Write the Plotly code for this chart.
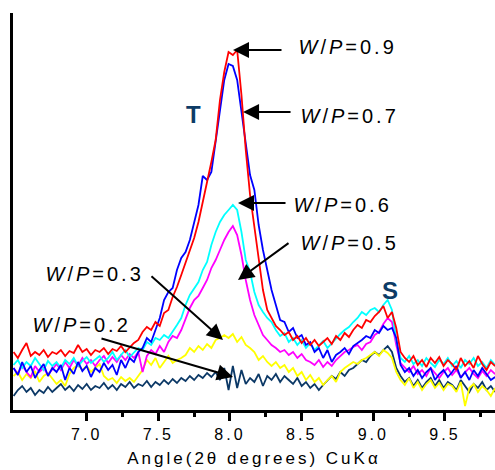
import numpy as np
import plotly.graph_objects as go

# 2-theta sampling grid (degrees), 0.03 deg step
two_theta = np.round(6.49 + 0.03 * np.arange(113), 2)

# Diffracted intensity (arb. units) for each W/P ratio
wp_09 = [58, 52, 60, 67, 54, 58, 55, 60, 53, 58,
         56, 60, 54, 59, 57, 65, 58, 61, 55, 60,
         58, 62, 56, 61, 59, 64, 58, 63, 67, 70,
         78, 83, 80, 88, 84, 97, 100, 113, 123, 135,
         148, 160, 172, 188, 207, 228, 248, 270, 310, 338,
         358, 355, 360, 315, 260, 215, 182, 148, 120, 100,
         92, 84, 80, 75, 78, 70, 74, 67, 72, 65,
         70, 64, 68, 72, 66, 74, 70, 77, 73, 80,
         85, 82, 90, 88, 94, 98, 104, 92, 98, 82,
         58, 52, 48, 54, 45, 50, 43, 52, 47, 53,
         44, 50, 46, 40, 52, 44, 49, 42, 54, 46, 40, 48, 44]

wp_07 = [42, 35, 48, 38, 44, 32, 40, 46, 34, 42,
         38, 45, 30, 42, 36, 48, 39, 44, 33, 42,
         38, 47, 40, 45, 35, 50, 42, 52, 48, 58,
         62, 72, 68, 80, 92, 110, 118, 122, 140, 152,
         158, 170, 188, 205, 234, 230, 238, 270, 300, 330,
         346, 344, 330, 298, 270, 235, 220, 185, 160, 140,
         120, 105, 90, 88, 78, 82, 72, 75, 65, 68,
         58, 62, 52, 60, 48, 55, 58, 62, 56, 64,
         67, 70, 74, 72, 80, 77, 84, 80, 82, 72,
         45, 38, 42, 34, 40, 32, 38, 42, 30, 36,
         40, 33, 38, 44, 32, 38, 30, 40, 34, 42, 36, 30, 33]

wp_06 = [45, 50, 42, 48, 44, 52, 46, 40, 49, 44,
         48, 42, 50, 46, 52, 44, 49, 53, 47, 51,
         54, 48, 52, 58, 50, 55, 60, 53, 58, 62,
         60, 68, 65, 72, 70, 75, 72, 78, 85, 92,
         105, 115, 122, 128, 140, 148, 165, 178, 188, 195,
         200, 205, 200, 178, 150, 138, 118, 105, 98, 92,
         88, 80, 74, 77, 68, 72, 65, 70, 62, 67,
         60, 65, 69, 62, 67, 72, 76, 80, 83, 88,
         92, 98, 95, 100, 102, 98, 105, 110, 100, 70,
         52, 48, 54, 46, 50, 44, 52, 47, 43, 50,
         46, 52, 44, 49, 42, 50, 46, 52, 44, 48, 42, 50, 45]

wp_05 = [42, 36, 45, 38, 33, 44, 38, 42, 35, 41,
         46, 40, 48, 42, 50, 44, 52, 46, 50, 44,
         50, 54, 47, 53, 48, 55, 50, 56, 52, 58,
         38, 54, 60, 56, 64, 58, 68, 74, 72, 80,
         92, 102, 110, 114, 122, 130, 142, 150, 160, 170,
         178, 184, 175, 155, 130, 110, 95, 85, 75, 70,
         65, 62, 58, 60, 55, 58, 52, 56, 50, 48,
         45, 50, 43, 48, 44, 50, 54, 58, 60, 63,
         65, 60, 66, 68, 75, 78, 86, 92, 88, 65,
         47, 42, 38, 44, 36, 40, 34, 42, 37, 32,
         38, 42, 35, 40, 33, 38, 42, 36, 32, 39, 34, 40, 36]

wp_03 = [34, 38, 30, 36, 32, 39, 28, 34, 37, 32,
         26, 30, 24, 36, 42, 45, 40, 44, 38, 42,
         46, 34, 30, 32, 27, 33, 29, 32, 28, 34,
         40, 50, 45, 52, 42, 48, 54, 47, 50, 52,
         55, 62, 58, 64, 60, 66, 62, 70, 72, 75,
         72, 76, 68, 73, 65, 62, 58, 50, 54, 48,
         44, 48, 42, 45, 38, 42, 34, 38, 30, 35,
         28, 32, 25, 30, 34, 28, 38, 42, 45, 48,
         46, 50, 52, 55, 58, 54, 60, 57, 52, 38,
         30, 25, 32, 22, 28, 20, 26, 30, 22, 27,
         20, 26, 24, 18, 28, 4, 22, 26, 18, 24, 20, 14, 22]

wp_02 = [14, 20, 24, 18, 22, 15, 20, 17, 23, 18,
         22, 26, 20, 24, 19, 25, 21, 26, 20, 24,
         22, 27, 21, 25, 20, 26, 23, 28, 22, 26,
         24, 29, 23, 28, 25, 30, 26, 31, 27, 32,
         29, 34, 30, 35, 32, 37, 33, 38, 30, 42,
         20, 44, 22, 40, 26, 32, 28, 36, 24, 34,
         30, 36, 28, 34, 30, 26, 32, 24, 28, 22,
         26, 20, 25, 30, 34, 31, 38, 34, 40, 42,
         46, 50, 48, 54, 58, 55, 60, 64, 58, 42,
         34, 28, 32, 24, 30, 22, 28, 32, 24, 30,
         22, 28, 25, 20, 30, 24, 18, 26, 22, 28, 20, 24, 18]

series_names = ["W/P=0.2", "W/P=0.3", "W/P=0.5", "W/P=0.6", "W/P=0.7", "W/P=0.9"]
series_values = [wp_02, wp_03, wp_05, wp_06, wp_07, wp_09]
series_colors = ["#0b3866", "#ffff00", "#ff00ff", "#00ffff", "#0000ff", "#ff0000"]

major_ticks = [7.0, 7.5, 8.0, 8.5, 9.0, 9.5]
minor_ticks = [7.25, 7.75, 8.25, 8.75, 9.25, 9.75]
x_range = [6.486, 9.849]
y_range = [0, 397]

# arrow labels: (text, tip x, tip y, tail dx px, tail dy px, label x, label y)
arrow_labels = [
    ("0.9", 8.021, 360, 50, 0, 8.823, 363),
    ("0.7", 8.091, 298, 49, 0, 8.837, 294),
    ("0.6", 8.056, 207, 49, 0, 8.788, 205),
    ("0.5", 8.056, 130, 52, -38, 8.837, 167),
    ("0.3", 7.951, 70, -73, -65, 7.058, 136),
    ("0.2", 8.021, 33, -133, -39, 6.967, 85),
]
phase_labels = [("T", 7.742, 296), ("S", 9.116, 120)]

fig = go.Figure()
for name, vals, col in zip(series_names, series_values, series_colors):
    fig.add_trace(go.Scatter(
        x=two_theta[:len(vals)], y=vals, mode="lines", name=name,
        line=dict(color=col, width=1.8), showlegend=False,
    ))

annotations = []
for val, tx, ty, dx, dy, lx, ly in arrow_labels:
    annotations.append(dict(
        x=tx, y=ty, xref="x", yref="y", ax=dx, ay=dy, text="",
        showarrow=True, arrowhead=2, arrowsize=1.6, arrowwidth=2,
        arrowcolor="black", standoff=0,
    ))
    annotations.append(dict(
        x=lx, y=ly, xref="x", yref="y", showarrow=False,
        text="<i>W</i>/<i>P</i>=" + val, xanchor="center", yanchor="middle",
        font=dict(family="Liberation Sans, Arial, sans-serif", size=20, color="black"),
    ))
for txt, lx, ly in phase_labels:
    annotations.append(dict(
        x=lx, y=ly, xref="x", yref="y", showarrow=False,
        text="<b>" + txt + "</b>", xanchor="center", yanchor="middle",
        font=dict(family="Liberation Sans, Arial, sans-serif", size=24, color="#0d3b66"),
    ))

fig.update_layout(
    width=495, height=470,
    margin=dict(l=13, r=0, t=13, b=60),
    paper_bgcolor="white", plot_bgcolor="white",
    annotations=annotations,
    font=dict(family="Liberation Sans, Arial, sans-serif", color="black"),
)
fig.update_xaxes(
    range=x_range, tickmode="array", tickvals=major_ticks,
    ticktext=["%.1f" % v for v in major_ticks],
    ticks="outside", ticklen=8, tickwidth=3, tickcolor="black",
    showline=True, linewidth=3, linecolor="black", showgrid=False, zeroline=False,
    tickfont=dict(size=16, color="black"),
    minor=dict(tickmode="array", tickvals=minor_ticks, ticks="outside",
               ticklen=4, tickwidth=3, tickcolor="black", showgrid=False),
    title=dict(text="Angle(2θ degrees) CuKα", font=dict(size=17, color="black"), standoff=10),
)
fig.update_yaxes(
    range=y_range, showticklabels=False, ticks="", showline=True,
    linewidth=3, linecolor="black", showgrid=False, zeroline=False,
)

# widen character spacing of axis texts and W/P labels
spacing_js = """
var gd = document.getElementById('{plot_id}');
function spread() {
  gd.querySelectorAll('.xtick text, .g-xtitle text').forEach(function (t) {
    t.style.letterSpacing = '3px';
  });
  gd.querySelectorAll('.annotation-text').forEach(function (t) {
    if (t.textContent.indexOf('W') >= 0) { t.style.letterSpacing = '3px'; }
  });
}
spread();
gd.on('plotly_afterplot', spread);
"""

fig.write_html("out.html", post_script=spacing_js)
